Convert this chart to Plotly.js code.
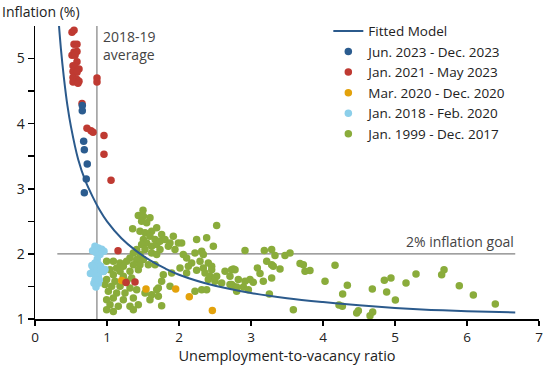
<!DOCTYPE html>
<html>
<head>
<meta charset="utf-8">
<script src="https://cdn.plot.ly/plotly-3.0.1.min.js"></script>
<style>html,body{margin:0;padding:0;background:#fff;}#chart{width:550px;height:365px;}</style>
</head>
<body>
<div id="chart"></div>
<script>
// Fitted model curve
var fitX = [0.33,0.36,0.40,0.45,0.50,0.60,0.70,0.80,0.90,1.00,1.20,1.40,1.60,1.80,2.00,2.50,3.00,3.50,4.00,4.50,5.00,5.50,6.00,6.67];
var fitY = [5.55,5.15,4.72,4.28,3.95,3.45,3.12,2.88,2.67,2.50,2.24,2.05,1.90,1.78,1.68,1.51,1.40,1.32,1.26,1.21,1.17,1.14,1.12,1.10];

// Jun. 2023 - Dec. 2023
var s2023X = [0.657,0.657,0.676,0.685,0.726,0.712,0.685];
var s2023Y = [4.28,4.20,3.73,3.60,3.38,3.15,2.94];

// Jan. 2021 - May 2023
var s2021X = [0.514,0.542,0.542,0.583,0.542,0.583,0.514,0.556,0.583,0.528,0.556,0.611,0.528,0.583,0.528,0.583,0.611,0.528,0.597,0.653,0.861,0.861,0.722,0.778,0.806,0.958,0.958,1.056,1.153,1.264,1.389];
var s2021Y = [5.405,5.435,5.22,5.22,5.10,5.11,5.05,5.05,4.95,4.89,4.87,4.84,4.80,4.79,4.71,4.68,4.65,4.64,4.62,4.31,4.70,4.64,3.93,3.89,3.87,3.82,3.53,3.13,2.05,1.56,1.57];

// Mar. 2020 - Dec. 2020
var s2020X = [1.204,1.542,1.954,2.143,2.463];
var s2020Y = [1.59,1.46,1.46,1.34,1.13];

// Jan. 2018 - Feb. 2020
var s2018X = [0.833,0.880,0.926,0.958,0.847,0.903,0.865,0.833,0.880,0.912,0.810,0.856,0.833,0.880,0.912,0.972,0.949,0.833,0.880,0.847,0.819,0.893,0.77,0.79,0.80];
var s2018Y = [2.117,2.09,2.07,2.04,2.02,1.99,1.92,1.86,1.84,1.81,1.78,1.73,1.68,1.66,1.76,1.76,1.73,1.60,1.55,1.49,1.55,1.60,1.70,1.82,2.05];

// Jan. 1999 - Dec. 2017
var s1999X = [1.435,1.505,1.597,1.481,1.551,1.356,1.458,1.528,1.620,1.597,1.505,1.667,1.551,1.481,1.620,1.690,1.412,1.528,1.366,1.458,1.620,1.690,1.319,1.412,1.505,1.273,1.181,1.088,0.995,1.366,1.458,1.574,1.667,1.227,1.134,1.042,0.949,1.181,1.319,1.435,1.088,1.227,1.343,0.995,1.111,1.273,0.972,1.065,1.181,1.319,1.412,1.019,1.134,1.250,1.528,1.620,1.088,1.227,1.366,0.995,1.042,1.157,1.319,1.435,1.597,0.995,1.088,1.366,1.690,1.713,1.50,
  1.690,1.759,1.736,1.806,1.875,1.921,1.991,2.037,1.852,1.944,1.736,2.060,2.106,2.222,2.315,2.338,2.245,2.384,2.477,2.523,2.292,2.407,2.454,2.176,2.130,2.014,2.106,2.245,2.361,2.431,2.523,2.639,2.731,1.898,1.782,1.759,2.407,2.500,2.593,2.708,1.713,2.315,2.222,2.384,1.875,1.759,2.755,2.454,2.338,
  2.917,3.185,3.287,3.333,3.472,3.542,3.218,3.287,3.310,3.403,3.681,3.727,3.750,3.819,3.088,3.125,2.755,2.778,2.986,3.171,3.287,2.708,2.824,2.917,3.032,2.731,2.801,2.894,2.963,2.801,3.255,3.588,
  4.028,4.167,4.273,4.338,4.222,4.269,4.468,4.491,4.653,4.690,4.685,4.852,4.944,4.884,5.005,5.153,5.292,5.648,5.681,5.893,6.088,6.393];
var s1999Y = [2.589,2.579,2.554,2.502,2.477,2.385,2.348,2.323,2.348,2.271,2.22,2.22,2.169,2.143,2.117,2.143,2.066,2.066,2.015,1.989,2.015,1.989,1.938,1.912,1.912,1.886,1.861,1.886,1.886,1.835,1.835,1.835,1.835,1.809,1.784,1.758,1.732,1.732,1.732,1.758,1.681,1.655,1.630,1.605,1.578,1.578,1.528,1.502,1.502,1.477,1.451,1.425,1.400,1.400,1.400,1.374,1.323,1.297,1.323,1.297,1.220,1.194,1.194,1.220,1.297,1.143,1.117,1.143,1.451,1.348,2.67,
  2.400,2.297,2.194,2.22,2.169,2.271,2.169,2.169,2.117,2.066,2.066,1.989,1.938,2.015,2.040,1.989,2.22,2.246,2.117,2.435,1.886,1.861,1.809,1.861,1.809,1.784,1.707,1.748,1.707,1.655,1.655,1.732,1.758,1.707,1.681,1.578,1.605,1.578,1.553,1.528,1.477,1.451,1.425,1.451,1.502,1.205,1.502,1.758,1.784,
  2.051,2.051,2.066,1.974,1.974,2.015,1.886,1.835,1.809,1.769,1.851,1.835,1.732,1.743,1.784,1.697,1.769,1.758,1.605,1.578,1.630,1.655,1.605,1.578,1.563,1.528,1.492,1.492,1.451,1.425,1.384,1.143,
  1.579,1.825,1.384,1.517,1.215,1.194,1.092,1.128,1.051,1.107,1.461,1.594,1.630,1.415,1.292,1.553,1.692,1.681,1.758,1.512,1.369,1.231];

var legendNames = ['Fitted Model','Jun. 2023 - Dec. 2023','Jan. 2021 - May 2023','Mar. 2020 - Dec. 2020','Jan. 2018 - Feb. 2020','Jan. 1999 - Dec. 2017'];
var avgX = 0.86;
var goalY = 2;

var FONT = 'Open Sans, sans-serif';
var ms = 7.5;
function sc(x, y, name, color) {
  return {x: x, y: y, name: name, type: 'scatter', mode: 'markers',
    marker: {color: color, size: ms, line: {width: 0}}, cliponaxis: true};
}
var traces = [
  sc(s1999X, s1999Y, legendNames[5], '#8aac3b'),
  sc(s2018X, s2018Y, legendNames[4], '#8ccfea'),
  sc(s2020X, s2020Y, legendNames[3], '#e3a20b'),
  sc(s2021X, s2021Y, legendNames[2], '#bf3a32'),
  sc(s2023X, s2023Y, legendNames[1], '#2b5c8f'),
  {x: fitX, y: fitY, name: legendNames[0], type: 'scatter', mode: 'lines',
   line: {color: '#2b5a8c', width: 2, shape: 'spline'}}
];

var layout = {
  width: 550, height: 365,
  margin: {l: 35, r: 11, t: 26, b: 46},
  paper_bgcolor: '#fff', plot_bgcolor: '#fff',
  font: {family: FONT, size: 13, color: '#222'},
  showlegend: true,
  legend: {x: 0.582, y: 1.035, xanchor: 'left', yanchor: 'top', traceorder: 'reversed',
           bgcolor: 'rgba(0,0,0,0)', font: {size: 13.5, color: '#222'}},
  xaxis: {range: [0, 7], tickvals: [0,1,2,3,4,5,6,7], ticks: 'outside', ticklen: 5,
          tickcolor: '#000', tickwidth: 1.5, showline: true, linecolor: '#000', linewidth: 1.5,
          showgrid: false, zeroline: false, tickfont: {size: 13.5, color: '#222'},
          title: {text: 'Unemployment-to-vacancy ratio', font: {size: 14.5, color: '#222'}, standoff: 6}},
  yaxis: {range: [1, 5.5], tickvals: [1,1.5,2,2.5,3,3.5,4,4.5,5], ticktext: ['1','','2','','3','','4','','5'],
          ticks: 'outside', ticklen: 6, tickcolor: '#000', tickwidth: 1.5, showline: true,
          linecolor: '#000', linewidth: 1.5, showgrid: false, zeroline: false,
          tickfont: {size: 14, color: '#222'}},
  shapes: [
    {type: 'line', xref: 'x', yref: 'y', x0: avgX, x1: avgX, y0: 1, y1: 5.5, layer: 'below',
     line: {color: '#808080', width: 1.2}},
    {type: 'line', xref: 'x', yref: 'y', x0: 0.31, x1: 6.67, y0: goalY, y1: goalY, layer: 'below',
     line: {color: '#808080', width: 1.2}}
  ],
  annotations: [
    {xref: 'paper', yref: 'paper', x: -0.069, y: 1.048, xanchor: 'left', yanchor: 'middle',
     text: 'Inflation (%)', showarrow: false, font: {size: 14, color: '#222'}},
    {xref: 'x', yref: 'y', x: 0.92, y: 5.2, xanchor: 'left', yanchor: 'middle', align: 'left',
     text: '2018-19<br>average', showarrow: false, font: {size: 14, color: '#444'}},
    {xref: 'x', yref: 'y', x: 6.68, y: 2.02, xanchor: 'right', yanchor: 'bottom',
     text: '2% inflation goal', showarrow: false, font: {size: 14, color: '#444'}}
  ]
};
Plotly.newPlot('chart', traces, layout, {staticPlot: true, displayModeBar: false});
</script>
</body>
</html>
